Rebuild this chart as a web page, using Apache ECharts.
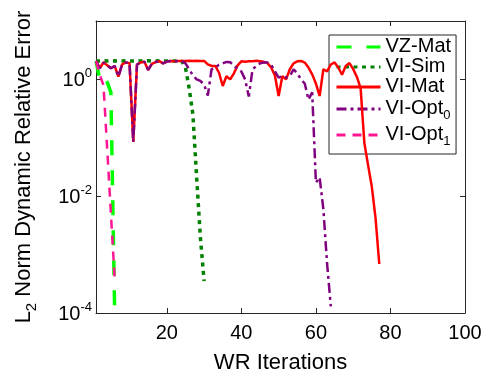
<!DOCTYPE html>
<html><head><meta charset="utf-8">
<script src="https://cdn.jsdelivr.net/npm/echarts@6/dist/echarts.min.js"></script>
<style>html,body{margin:0;padding:0;background:#fff}#c{width:487px;height:375px}</style>
</head><body><div id="c"></div>
<script>
// Values per WR iteration (iteration = index + 1)
const vzMat = [2.07, 1.0, 1.15, 0.9, 0.6, 1.1e-4];
const viSim = [2.07, 2.07, 2.08, 2.07, 2.07, 2.08, 2.07, 2.07, 2.08, 2.07,
               2.07, 2.08, 2.07, 2.07, 2.08, 2.07, 2.07, 2.08, 2.07, 2.07,
               2.08, 2.07, 2.07, 2.05, 1.6, 0.7, 0.25, 0.021, 0.002, 0.00035];
const viMat = [2.07, 1.55, 1.95, 1.75, 1.55, 1.7, 1.12, 1.8, 1.95, 1.9,
               0.085, 1.8, 1.95, 2.0, 1.45, 1.85, 1.98, 2.05, 1.88, 2.02,
               2.07, 2.05, 2.07, 2.07, 2.07, 2.08, 2.07, 2.08, 2.07, 2.07,
               1.81, 1.7, 1.7, 1.3, 0.77, 1.13, 1.0, 1.27, 1.74, 2.04,
               2.0, 2.05, 2.05, 2.08, 2.05, 2.0, 1.9, 1.6, 1.17, 0.52,
               1.13, 1.0, 1.49, 1.88, 2.04, 2.07, 1.94, 1.6, 1.22, 0.85,
               0.52, 1.49, 1.37, 1.8, 1.95, 1.6, 1.2, 1.7, 1.9, 1.5,
               1.1, 0.7, 0.082, 0.034, 0.0145, 0.0042, 0.00069];
const viOpt0 = [2.07, 1.55, 1.95, 1.75, 1.55, 1.7, 1.12, 1.8, 1.95, 1.9,
                0.085, 1.8, 1.95, 2.0, 1.45, 1.85, 1.98, 2.05, 1.88, 2.02,
                2.07, 2.05, 2.07, 2.07, 1.88, 1.49, 1.17, 1.0, 0.94, 0.82,
                0.53, 1.49, 1.6, 1.78, 1.88, 1.99, 1.96, 1.74, 1.49, 1.37,
                1.0, 0.51, 1.49, 1.7, 1.88, 1.94, 1.94, 1.78, 1.37, 1.07,
                1.14, 1.08, 1.13, 1.49, 1.27, 1.0, 0.85, 0.45, 0.6, 0.017,
                0.021, 0.006, 0.0007, 0.00013];
const viOpt1 = [2.07, 1.2, 0.8, 0.065, 0.005, 0.0004];

const xTicks = [20, 40, 60, 80, 100];
const seriesNames = ['VZ-Mat', 'VI-Sim', 'VI-Mat', 'VI-Opt0', 'VI-Opt1'];
const legendText = {
  'VZ-Mat': '{n|VZ-Mat}',
  'VI-Sim': '{n|VI-Sim}',
  'VI-Mat': '{n|VI-Mat}',
  'VI-Opt0': '{n|VI-Opt}{s|0}',
  'VI-Opt1': '{n|VI-Opt}{s|1}'
};
const xName = 'WR Iterations';
const yName = '{n|L}{s|2}{n| Norm Dynamic Relative Error}';

const FONT = '"Liberation Sans", Arial, Helvetica, sans-serif';
const AX = '#262626';
const pairs = arr => arr.map((v, i) => [i + 1, v]);

const styles = [
  { color: '#00FF00', width: 3.5, type: [15, 15] },
  { color: '#008000', width: 3.5, type: [4, 4.5] },
  { color: '#FF0000', width: 2.5, type: 'solid' },
  { color: '#800080', width: 2.5, type: [10, 4, 3, 4] },
  { color: '#FF1493', width: 2.5, type: [9, 7] }
];
const datasets = [vzMat, viSim, viMat, viOpt0, viOpt1];

const chart = echarts.init(document.getElementById('c'), null, { renderer: 'canvas' });

function yLabel(v) {
  const e = Math.log10(v);
  const r = Math.round(e);
  if (Math.abs(e - r) > 1e-6 || r % 2 !== 0) return '';
  return '{b|10}{e|' + (r < 0 ? '-' + (-r) : r) + '}';
}

const option = {
  animation: false,
  backgroundColor: '#fff',
  textStyle: { fontFamily: FONT },
  grid: { left: 96, right: 22, top: 21, bottom: 62, containLabel: false, outerBoundsMode: 'none' },
  legend: {
    data: seriesNames,
    orient: 'vertical',
    left: 329, top: 35,
    padding: [1, 5, 6, 6],
    itemGap: 0,
    itemWidth: 44, itemHeight: 14,
    backgroundColor: '#fff',
    borderColor: AX, borderWidth: 1,
    itemStyle: { opacity: 0 },
    lineStyle: { width: 3 },
    formatter: name => legendText[name],
    textStyle: {
      fontFamily: FONT, color: '#000',
      rich: {
        n: { fontSize: 20, lineHeight: 22, verticalAlign: 'top', fontFamily: FONT, color: '#000' },
        s: { fontSize: 13, lineHeight: 13, padding: [13, 0, 0, 0], fontFamily: FONT, color: '#000' }
      }
    }
  },
  xAxis: [{
    type: 'value', min: 1, max: 100, position: 'bottom',
    name: xName, nameLocation: 'middle', nameGap: 39,
    nameTextStyle: { fontSize: 22, color: '#000', fontFamily: FONT },
    axisLine: { show: true, onZero: false, lineStyle: { color: AX, width: 1 } },
    axisTick: { show: true, inside: true, length: 5, customValues: xTicks, lineStyle: { color: AX } },
    axisLabel: { show: true, customValues: xTicks, fontSize: 20, color: '#000', margin: 10, fontFamily: FONT },
    splitLine: { show: false }
  }, {
    type: 'value', min: 1, max: 100, position: 'top',
    axisLine: { show: true, onZero: false, lineStyle: { color: AX, width: 1 } },
    axisTick: { show: true, inside: true, length: 5, customValues: xTicks, lineStyle: { color: AX } },
    axisLabel: { show: false },
    splitLine: { show: false }
  }],
  yAxis: [{
    type: 'log', logBase: 10, min: 1e-4, max: 10, interval: 2, position: 'left',
    name: yName, nameLocation: 'middle', nameGap: 59,
    nameTextStyle: {
      color: '#000', fontFamily: FONT,
      rich: {
        n: { fontSize: 22, lineHeight: 24, verticalAlign: 'top', color: '#000', fontFamily: FONT },
        s: { fontSize: 15, lineHeight: 15, padding: [13, 0, 0, 0], color: '#000', fontFamily: FONT }
      }
    },
    axisLine: { show: true, onZero: false, lineStyle: { color: AX, width: 1 } },
    axisTick: { show: true, inside: true, length: 5, lineStyle: { color: AX } },
    minorTick: { show: false },
    axisLabel: {
      show: true, margin: 4, formatter: yLabel, color: '#000',
      rich: {
        b: { fontSize: 20, lineHeight: 22, verticalAlign: 'bottom', color: '#000', fontFamily: FONT },
        e: { fontSize: 13, lineHeight: 13, padding: [0, 0, 12, 0], color: '#000', fontFamily: FONT }
      }
    },
    splitLine: { show: false }
  }, {
    type: 'log', logBase: 10, min: 1e-4, max: 10, interval: 2, position: 'right',
    axisLine: { show: true, onZero: false, lineStyle: { color: AX, width: 1 } },
    axisTick: { show: true, inside: true, length: 5, lineStyle: { color: AX } },
    axisLabel: { show: false },
    splitLine: { show: false }
  }],
  series: seriesNames.map((name, i) => ({
    name: name,
    type: 'line',
    xAxisIndex: 0, yAxisIndex: 0,
    data: pairs(datasets[i]),
    symbol: 'none',
    showSymbol: false,
    clip: true,
    z: 2 + i,
    lineStyle: { color: styles[i].color, width: styles[i].width, type: styles[i].type, cap: 'butt' },
    itemStyle: { color: styles[i].color }
  }))
};
chart.setOption(option);
</script></body></html>
